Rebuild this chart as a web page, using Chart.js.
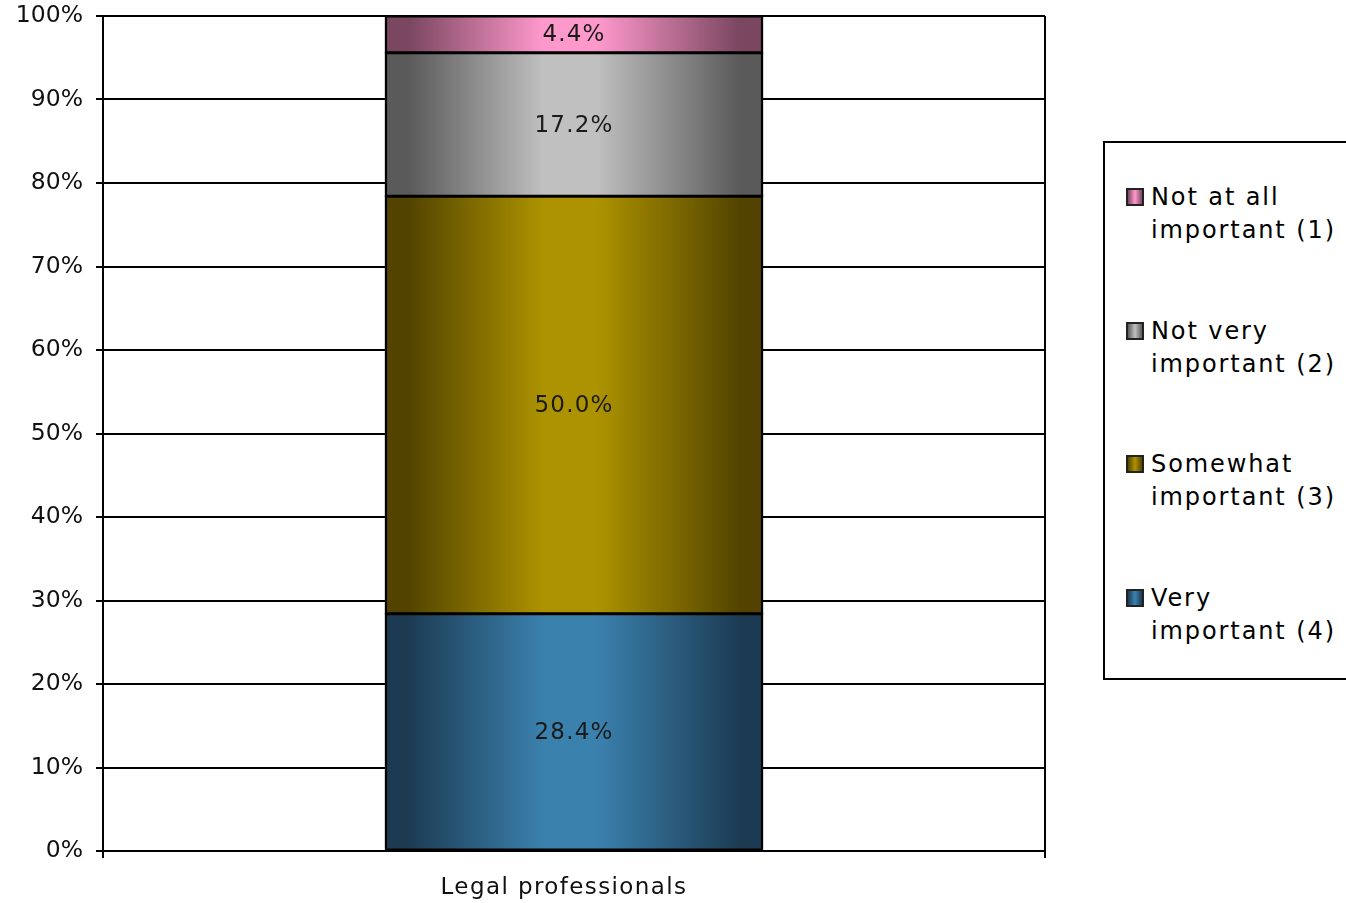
<!DOCTYPE html>
<html>
<head>
<meta charset="utf-8">
<script src="https://cdn.jsdelivr.net/npm/chart.js@4.4.1/dist/chart.umd.min.js"></script>
<style>
  html, body { margin: 0; padding: 0; background: #fff; overflow: hidden; }
  #wrap { position: relative; width: 1346px; height: 903px; }
  #c { position: absolute; left: 0; top: 0; }
  #legend { position: absolute; left: 1103px; top: 141px; width: 270px; height: 535px;
            border: 2px solid #000; background: #fff; box-sizing: content-box; }
  .item { position: absolute; left: 0; width: 270px; font-family: "DejaVu Sans", Verdana, sans-serif;
          font-size: 24px; line-height: 33px; letter-spacing: 1.9px; color: #000; }
  .item .sw { position: absolute; left: 21px; top: 6px; width: 14px; height: 14px; border: 2px solid #222; }
  .item .tx { position: absolute; left: 46px; top: -1px; white-space: nowrap; }
</style>
</head>
<body>
<div id="wrap">
  <canvas id="c" width="1346" height="903"></canvas>
  <div id="legend"></div>
</div>
<script>
// ---- data ----
const categories = ["Legal professionals"];
const seriesNames = ["Very important (4)", "Somewhat important (3)", "Not very important (2)", "Not at all important (1)"];
const legendLines = [["Very", "important (4)"], ["Somewhat", "important (3)"], ["Not very", "important (2)"], ["Not at all", "important (1)"]];
const veryImportant = [28.4];
const somewhatImportant = [50.0];
const notVeryImportant = [17.2];
const notAtAllImportant = [4.4];
const yTicks = [0, 10, 20, 30, 40, 50, 60, 70, 80, 90, 100];

// ---- styles ----
const darkColors  = ["#1c3b53", "#524400", "#5a5a5a", "#7a4660"];
const lightColors = ["#3b81ae", "#ad9300", "#c0c0c0", "#ff99cc"];
const seriesValues = [veryImportant, somewhatImportant, notVeryImportant, notAtAllImportant];

const BAR_FRACTION = 0.4;

function gradientFor(i) {
  return function (ctx) {
    const chart = ctx.chart;
    const area = chart.chartArea;
    if (!area || !chart.scales.x) return lightColors[i];
    const xs = chart.scales.x;
    const cx = xs.getPixelForValue(ctx.dataIndex || 0);
    const w = (area.right - area.left) / categories.length * BAR_FRACTION;
    const g = chart.ctx.createLinearGradient(cx - w / 2, 0, cx + w / 2, 0);
    g.addColorStop(0, darkColors[i]);
    g.addColorStop(0.06, darkColors[i]);
    g.addColorStop(0.42, lightColors[i]);
    g.addColorStop(0.56, lightColors[i]);
    g.addColorStop(0.94, darkColors[i]);
    g.addColorStop(1, darkColors[i]);
    return g;
  };
}

const datasets = seriesValues.map((vals, i) => ({
  label: seriesNames[i],
  data: vals,
  backgroundColor: gradientFor(i),
  borderColor: "#000",
  borderWidth: 2.5,
  borderSkipped: false,
  inflateAmount: 1,
  categoryPercentage: 1.0,
  barPercentage: BAR_FRACTION
}));

const valueLabels = {
  id: "valueLabels",
  afterDatasetsDraw(chart) {
    const ctx = chart.ctx;
    ctx.save();
    ctx.letterSpacing = "1.2px";
    ctx.font = "23px 'DejaVu Sans', Verdana, sans-serif";
    ctx.fillStyle = "#1a1a1a";
    ctx.textAlign = "center";
    ctx.textBaseline = "middle";
    chart.data.datasets.forEach((ds, di) => {
      const meta = chart.getDatasetMeta(di);
      meta.data.forEach((el, j) => {
        const v = ds.data[j];
        const yMid = (el.y + el.base) / 2;
        ctx.fillText(v.toFixed(1) + "%", el.x, yMid + 1);
      });
    });
    ctx.restore();
  }
};

const chart = new Chart(document.getElementById("c"), {
  type: "bar",
  data: { labels: categories, datasets: datasets },
  plugins: [valueLabels],
  options: {
    responsive: false,
    animation: false,
    devicePixelRatio: 1,
    layout: { padding: { top: 16, right: 301, bottom: 0, left: 0 } },
    plugins: { legend: { display: false }, tooltip: { enabled: false } },
    scales: {
      x: {
        stacked: true,
        offset: true,
        grid: { display: true, offset: true, color: "#000", lineWidth: 2, tickLength: 7, drawOnChartArea: true, drawTicks: true },
        border: { display: true, color: "#000", width: 2 },
        ticks: { color: "#111", font: { family: "'DejaVu Sans', Verdana, sans-serif", size: 23 }, padding: 16, labelOffset: -10 },
        afterFit(scale) {
          scale.height = 52; scale.paddingLeft = 0; scale.paddingRight = 0;
          if (!scale._spacedLabels) {
            const orig = scale.drawLabels;
            scale.drawLabels = function (area) {
              const c = this.ctx;
              c.save();
              c.letterSpacing = "1.4px";
              orig.call(this, area);
              c.restore();
            };
            scale._spacedLabels = true;
          }
        }
      },
      y: {
        stacked: true,
        min: 0,
        max: 100,
        afterBuildTicks(scale) { scale.ticks = yTicks.map(v => ({ value: v })); },
        grid: { color: "#000", lineWidth: 2, tickLength: 7, drawTicks: true },
        border: { display: true, color: "#000", width: 2 },
        ticks: {
          color: "#111",
          font: { family: "'DejaVu Sans', Verdana, sans-serif", size: 23.5 },
          padding: 13,
          callback: v => v + "%"
        },
        afterFit(scale) { scale.width = 103; scale.paddingTop = 0; scale.paddingBottom = 0; }
      }
    }
  }
});

// ---- legend (reverse order: top series first) ----
const legendEl = document.getElementById("legend");
const tops = [39, 172.5, 306, 439.5];
const order = [3, 2, 1, 0];
order.forEach((si, k) => {
  const it = document.createElement("div");
  it.className = "item";
  it.style.top = tops[k] + "px";
  const sw = document.createElement("div");
  sw.className = "sw";
  sw.style.background = "linear-gradient(to right, " + darkColors[si] + ", " + lightColors[si] + " 50%, " + darkColors[si] + ")";
  const tx = document.createElement("div");
  tx.className = "tx";
  tx.innerHTML = legendLines[si][0] + "<br>" + legendLines[si][1];
  it.appendChild(sw);
  it.appendChild(tx);
  legendEl.appendChild(it);
});
</script>
</body>
</html>
